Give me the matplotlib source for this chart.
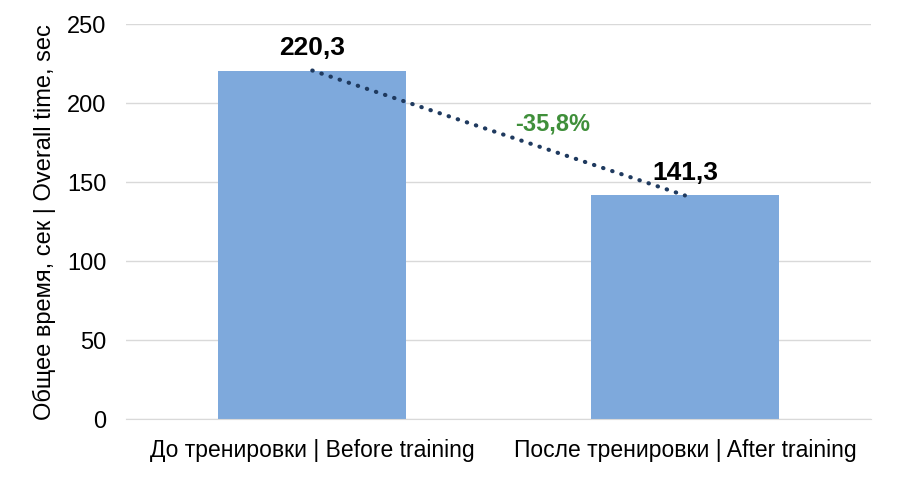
import matplotlib
matplotlib.use("Agg")
import matplotlib.pyplot as plt

categories = ["До тренировки | Before training", "После тренировки | After training"]
values = [220.3, 141.3]
value_labels = ["220,3", "141,3"]
change_label = "-35,8%"
y_ticks = [0, 50, 100, 150, 200, 250]

plt.rcParams['font.family'] = ['Liberation Sans Narrow', 'Liberation Sans', 'DejaVu Sans']

fig = plt.figure(figsize=(9, 4.81), dpi=100)
ax = fig.add_axes([0.14, 0.127, 0.828, 0.822])

x = list(range(len(categories)))
ax.bar(x, values, width=0.505, color="#7ea9dc", zorder=2)
ax.plot(x, values, linestyle=(0, (0.1, 2.2)), dash_capstyle="round", color="#1f3a5f",
        linewidth=3, zorder=3)

for xi, v, lab in zip(x, values, value_labels):
    ax.text(xi, v + 7, lab, ha="center", va="bottom", fontsize=19, fontweight="bold", color="black", zorder=4)

ax.text(0.645, (values[0] + values[1]) / 2 + 6, change_label, ha="center", va="center",
        fontsize=17, fontweight="bold", color="#3f8f3a", zorder=4)

ax.set_xlim(-0.5, 1.5)
ax.set_ylim(0, 250)
ax.set_yticks(y_ticks)
ax.set_xticks(x)
ax.set_xticklabels(categories, fontsize=16.5)
ax.tick_params(axis="y", labelsize=17, length=0, pad=14)
ax.tick_params(axis="x", length=0, pad=14)
ax.set_ylabel("Общее время, сек | Overall time, sec", fontsize=17, labelpad=8)
ax.grid(axis="y", color="#d9d9d9", linewidth=1, zorder=0)
for s in ["top", "right", "left"]:
    ax.spines[s].set_visible(False)
ax.spines["bottom"].set_color("#d9d9d9")

fig.savefig("out.png", dpi=100)
